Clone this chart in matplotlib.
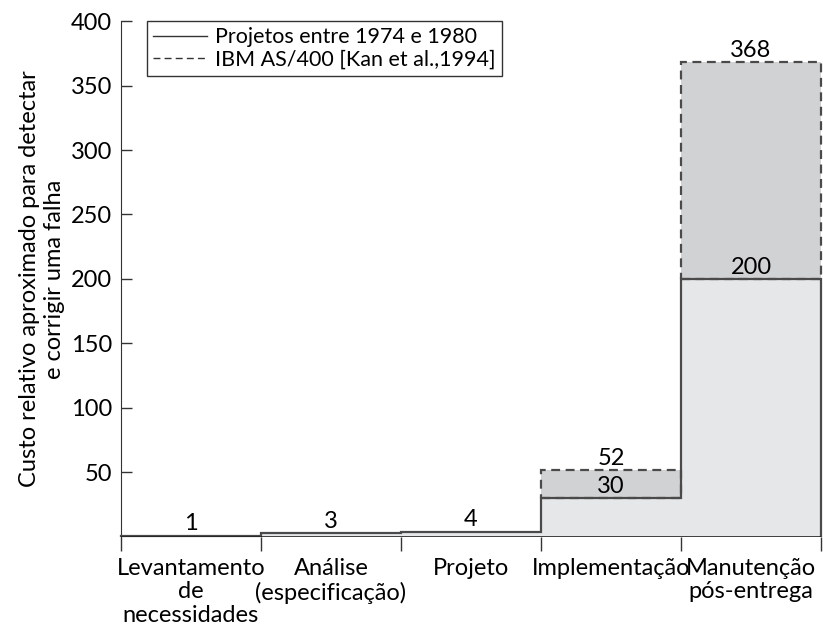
import numpy as np
import matplotlib
matplotlib.use("Agg")
import matplotlib.pyplot as plt
from matplotlib.lines import Line2D

# data
stages = [
    "Levantamento\nde\nnecessidades",
    "Análise\n(especificação)",
    "Projeto",
    "Implementação",
    "Manutenção\npós-entrega",
]
cost_1974_1980 = [1, 3, 4, 30, 200]
cost_ibm = [np.nan, np.nan, np.nan, 52, 368]
yticks = [50, 100, 150, 200, 250, 300, 350, 400]

LIGHT = "#e6e7e8"
DARK = "#d1d2d4"
LINE = "#4a4a4a"
FS = 17

plt.rcParams["font.family"] = ["Lato", "DejaVu Sans"]
plt.rcParams["font.size"] = FS

fig = plt.figure(figsize=(8.23, 6.29), dpi=100)
ax = fig.add_axes([0.147, 0.1463, 0.8506, 0.8203])

edges = np.arange(len(stages) + 1)
centers = edges[:-1] + 0.5
base = np.array(cost_1974_1980, dtype=float)
ibm = np.array(cost_ibm, dtype=float)

# light area for 1974-1980 projects
ax.stairs(base, edges, baseline=0, fill=True, color=LIGHT, zorder=1)

# IBM extra cost on top, dashed outline
has_ibm = ~np.isnan(ibm)
ax.bar(centers[has_ibm], ibm[has_ibm] - base[has_ibm], bottom=base[has_ibm], width=1.0,
       facecolor=DARK, edgecolor=LINE, linestyle=(0, (4, 2.5)), linewidth=1.6,
       zorder=2, clip_on=False)

# solid outline for the 1974-1980 series
ax.stairs(base, edges, baseline=0, fill=False, color=LINE, linewidth=1.6, zorder=3, clip_on=False)
ax.axhline(0, color="#222222", linewidth=1.2, zorder=4)

for c, v in zip(centers, base):
    ax.annotate(f"{v:g}", (c, v), xytext=(0, 1), textcoords="offset points",
                ha="center", va="bottom", fontsize=FS)
for c, v in zip(centers[has_ibm], ibm[has_ibm]):
    ax.annotate(f"{v:g}", (c, v), xytext=(0, 1), textcoords="offset points",
                ha="center", va="bottom", fontsize=FS)

ax.set_xlim(0, len(stages))
ax.set_ylim(0, 400)
ax.set_yticks(yticks)
ax.tick_params(axis="y", direction="in", length=8, width=1, color="#333333", pad=6.5, labelsize=FS)
ax.set_xticks(edges)
ax.set_xticklabels([])
ax.set_xticks(centers, minor=True)
ax.set_xticklabels(stages, minor=True, linespacing=1.15)
ax.tick_params(axis="x", which="major", direction="out", length=10, width=1, color="#333333")
ax.tick_params(axis="x", which="minor", length=0, pad=15, labelsize=FS)

for side in ["top", "right"]:
    ax.spines[side].set_visible(False)
ax.spines["left"].set_color("#333333")
ax.spines["bottom"].set_visible(False)

ax.set_ylabel("Custo relativo aproximado para detectar\ne corrigir uma falha", fontsize=FS,
              labelpad=4, linespacing=1.25)

handles = [
    Line2D([], [], color="#333333", linewidth=1.0),
    Line2D([], [], color="#333333", linewidth=1.0, linestyle=(0, (5, 3))),
]
leg = ax.legend(handles, ["Projetos entre 1974 e 1980", "IBM AS/400 [Kan et al.,1994]"],
                loc="upper left", bbox_to_anchor=(0.037, 1.0), borderaxespad=0,
                fancybox=False, edgecolor="#333333", framealpha=1, handlelength=2.5,
                fontsize=15.5, borderpad=0.3, labelspacing=0.08, handletextpad=0.35)
leg.get_frame().set_linewidth(1.0)

fig.savefig("out.png", dpi=100)
